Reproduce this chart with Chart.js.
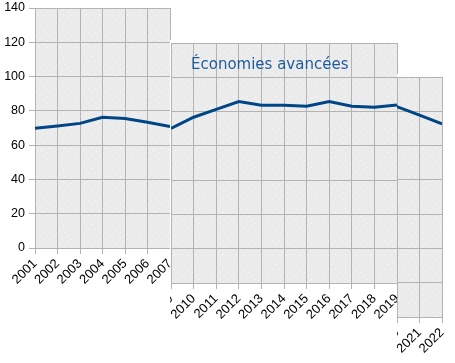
<!DOCTYPE html>
<html>
<head>
<meta charset="utf-8">
<script src="https://cdn.jsdelivr.net/npm/chart.js@4.4.1/dist/chart.umd.min.js"></script>
<style>
  body { margin: 0; background: #fff; width: 455px; height: 363px; overflow: hidden; position: relative; }
  canvas { position: absolute; background: #fff; }
</style>
</head>
<body>
<canvas id="p1" width="171" height="292" style="left:0px;top:0px"></canvas>
<canvas id="p2" width="228" height="290" style="left:170px;top:40px"></canvas>
<canvas id="p3" width="58" height="289" style="left:397px;top:74px"></canvas>
<script>
// data
const years = ['2001', '2002', '2003', '2004', '2005', '2006', '2007', '2008', '2009', '2010', '2011',
               '2012', '2013', '2014', '2015', '2016', '2017', '2018', '2019', '2020', '2021', '2022'];
const values = [69.8, 71.2, 72.7, 76.2, 75.6, 73.3, 70.8, null, 70.2, 76.7, 81.3,
                85.8, 83.7, 83.7, 83.1, 85.8, 83.1, 82.5, 83.8, 82.7, 77.8, 72.6];
const yStep = 20;
const title = 'Économies avancées';

const gridColor = '#b3b3b3';
const lineColor = '#004586';
const yFont = { family: 'Liberation Sans', size: 12.5 };
const xFont = { family: 'Liberation Sans', size: 13 };

// dotted grey plot background
const tile = document.createElement('canvas');
tile.width = 14; tile.height = 14;
const tc = tile.getContext('2d');
tc.fillStyle = '#ebebeb';
tc.fillRect(0, 0, 14, 14);
tc.fillStyle = '#f8f8f8';
[[1, 1], [7, 0], [11, 4], [4, 5], [0, 9], [8, 8], [12, 11], [5, 12]].forEach(p => tc.fillRect(p[0], p[1], 1, 1));

const plotBg = {
  id: 'plotBg',
  beforeDraw(chart) {
    const { ctx, chartArea: a } = chart;
    ctx.save();
    ctx.fillStyle = ctx.createPattern(tile, 'repeat');
    ctx.fillRect(a.left, a.top, a.right - a.left, a.bottom - a.top);
    ctx.restore();
  }
};

const titleText = {
  id: 'titleText',
  afterDraw(chart) {
    const ctx = chart.ctx;
    ctx.save();
    ctx.font = '15px "DejaVu Sans"';
    ctx.fillStyle = '#1e5b9c';
    ctx.textAlign = 'left';
    ctx.textBaseline = 'alphabetic';
    ctx.fillText(title, 21, 29);
    ctx.restore();
  }
};

function panel(id, from, to, yMin, yMax, showY, pad, xHeight, extra) {
  return new Chart(document.getElementById(id), {
    type: 'line',
    data: {
      labels: years,
      datasets: [{
        data: values,
        borderColor: lineColor,
        borderWidth: 3,
        pointRadius: 0,
        tension: 0,
        fill: false
      }]
    },
    options: {
      responsive: false,
      animation: false,
      layout: { padding: pad },
      plugins: { legend: { display: false }, tooltip: { enabled: false } },
      scales: {
        x: {
          min: from,
          max: to,
          offset: false,
          grid: { color: gridColor, tickLength: 6 },
          border: { color: gridColor },
          ticks: { autoSkip: false, minRotation: 45, maxRotation: 45, color: '#000', font: xFont, padding: 2 },
          afterFit: s => { s.paddingLeft = 0; s.paddingRight = 0; s.height = xHeight; }
        },
        y: {
          min: yMin,
          max: yMax,
          grid: { color: gridColor, tickLength: 6, drawTicks: showY },
          border: { color: gridColor },
          ticks: { stepSize: yStep, display: showY, color: '#000', font: yFont, padding: 4 },
          afterFit: s => { s.width = showY ? 35 : 0; s.paddingTop = 0; s.paddingBottom = 0; }
        }
      }
    },
    plugins: [plotBg].concat(extra || [])
  });
}

panel('p1', '2001', '2007', 0, 140, true, { top: 8, right: 1, left: 0, bottom: 0 }, 44);
panel('p2', '2009', '2019', -20, 120, false, { top: 3, right: 1, left: 1, bottom: 0 }, 47, [titleText]);
panel('p3', '2020', '2022', -40, 100, false, { top: 3, right: 13, left: 0, bottom: 0 }, 46);
</script>
</body>
</html>
